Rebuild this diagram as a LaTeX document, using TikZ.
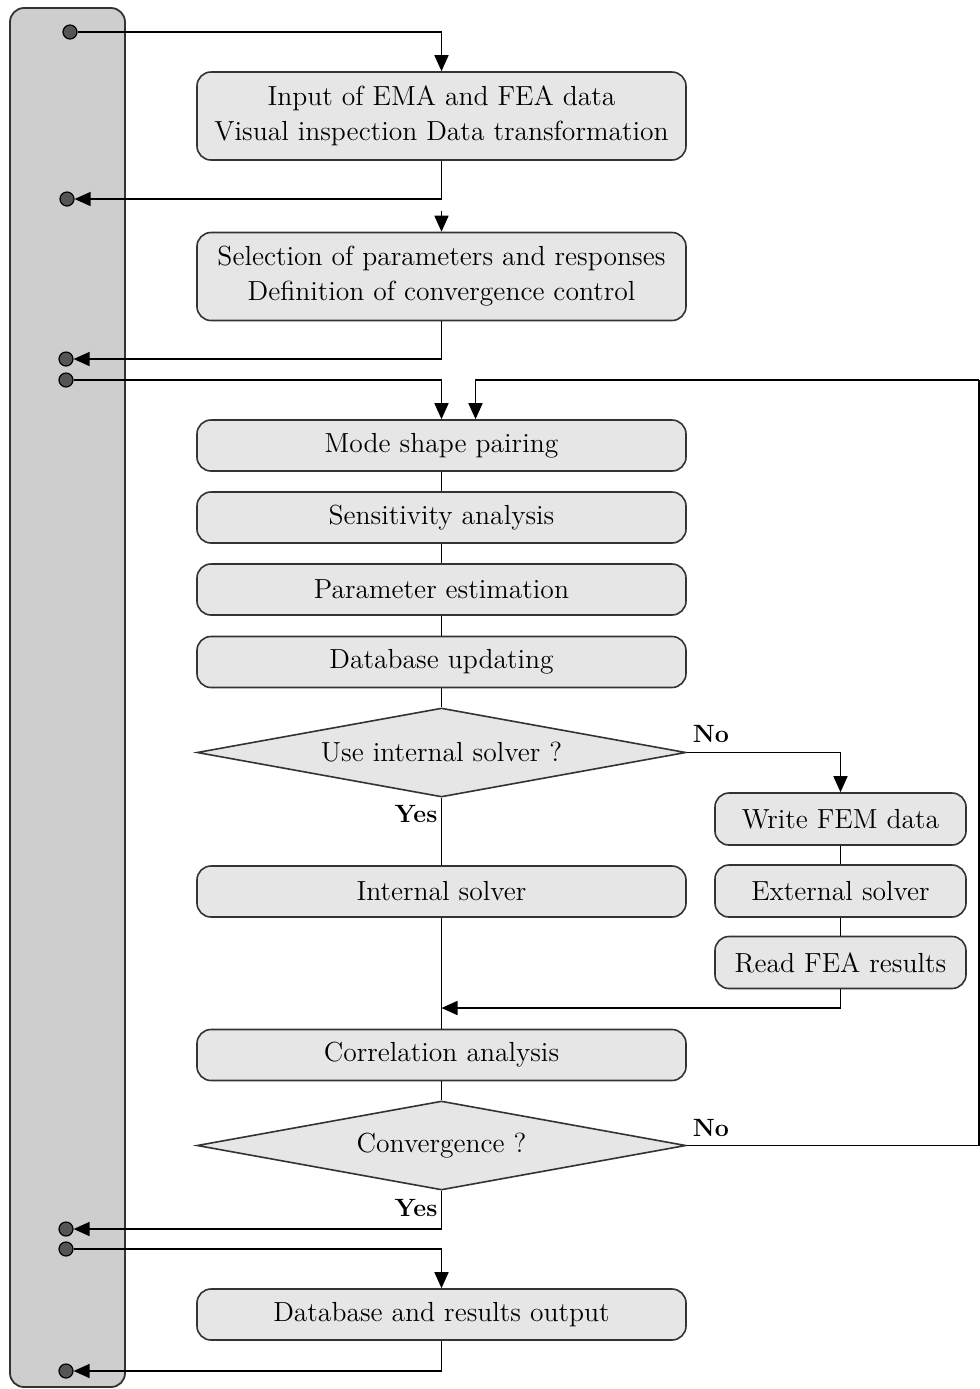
\documentclass[tikz,border=0pt]{standalone}
\usetikzlibrary{shapes.geometric,arrows.meta}
\definecolor{barfill}{HTML}{CECECE}
\definecolor{boxfill}{HTML}{E6E6E6}
\definecolor{dotfill}{HTML}{555555}
\definecolor{edge}{HTML}{333333}
\tikzset{
  x=0.5pt, y=-0.5pt,
  every node/.style={font=\fontsize{13.8}{17.5}\selectfont},
  bar/.style={draw=edge, line width=0.9pt, fill=barfill, rounded corners=7pt, minimum width=57.5pt, minimum height=689.5pt, inner sep=0pt},
  box/.style={draw=edge, line width=0.8pt, fill=boxfill, rounded corners=7pt, minimum width=244.5pt, minimum height=25.5pt, inner sep=0pt, align=center},
  bigbox/.style={box, minimum height=44pt},
  sidebox/.style={box, minimum width=125.5pt, minimum height=26pt},
  decide/.style={diamond, draw=edge, line width=0.8pt, fill=boxfill, minimum width=244.5pt, minimum height=44.5pt, inner sep=0pt, aspect=5.5},
  dot/.style={circle, draw=black, line width=0.6pt, fill=dotfill, minimum size=7pt, inner sep=0pt},
  link/.style={draw=black, line width=0.8pt},
  arr/.style={link, -{Triangle[length=8pt,width=7pt]}},
  lab/.style={font=\bfseries\fontsize{12.5}{14}\selectfont, inner sep=0pt},
}
\begin{document}
\begin{tikzpicture}
\useasboundingbox (0,0) rectangle (980,1389);
% left bar
\node[bar] (bar) at (67.5,697.5) {};
% dots
\node[dot] (d1) at (70,32) {};
\node[dot] (d2) at (67,199) {};
\node[dot] (d3) at (66,359) {};
\node[dot] (d4) at (66,380) {};
\node[dot] (d5) at (66,1229) {};
\node[dot] (d6) at (66,1249) {};
\node[dot] (d7) at (66,1371) {};
% main column
\node[bigbox] (b1) at (441.5,116) {Input of EMA and FEA data\\Visual inspection Data transformation};
\node[bigbox] (b2) at (441.5,276.5) {Selection of parameters and responses\\Definition of convergence control};
\node[box] (b3) at (441.5,445.5) {Mode shape pairing};
\node[box] (b4) at (441.5,517.5) {Sensitivity analysis};
\node[box] (b5) at (441.5,589.5) {Parameter estimation};
\node[box] (b6) at (441.5,662) {Database updating};
\node[decide] (q1) at (441.5,752.5) {Use internal solver ?};
\node[box] (b7) at (441.5,891.5) {Internal solver};
\node[sidebox] (s1) at (840.5,819) {Write FEM data};
\node[sidebox] (s2) at (840.5,891) {External solver};
\node[sidebox] (s3) at (840.5,962.5) {Read FEA results};
\node[box] (b8) at (441.5,1055) {Correlation analysis};
\node[decide] (q2) at (441.5,1145.5) {Convergence ?};
\node[box] (b9) at (441.5,1314.5) {Database and results output};
% labels
\node[lab] (n1) at (711,734) {No};
\node[lab] (y1) at (416,814) {Yes};
\node[lab] (n2) at (711,1128) {No};
\node[lab] (y2) at (416,1208) {Yes};
% helper coordinates
\coordinate (c2) at (441.5,211);
\coordinate (cm) at (441.5,1008);
\coordinate (r1) at (979,1145.5);
\coordinate (r2) at (979,380);
% connectors
\draw[arr] (d1) -| (b1.north);
\draw[arr] (b1.south) |- (d2);
\draw[arr] (c2) -- (b2.north);
\draw[arr] (b2.south) |- (d3);
\draw[arr] (d4) -| (b3.north);
\draw[link] (b3) -- (b4);
\draw[link] (b4) -- (b5);
\draw[link] (b5) -- (b6);
\draw[link] (b6) -- (q1);
\draw[link] (q1) -- (b7);
\draw[arr] (q1.east) -| (s1.north);
\draw[link] (s1) -- (s2);
\draw[link] (s2) -- (s3);
\draw[arr] (s3.south) |- (cm);
\draw[link] (b7) -- (b8);
\draw[link] (b8) -- (q2);
\draw[link] (q2.east) -- (r1) -- (r2);
\draw[arr] (r2) -| ([xshift=17pt]b3.north);
\draw[arr] (q2.south) |- (d5);
\draw[arr] (d6) -| (b9.north);
\draw[arr] (b9.south) |- (d7);
\end{tikzpicture}
\end{document}
